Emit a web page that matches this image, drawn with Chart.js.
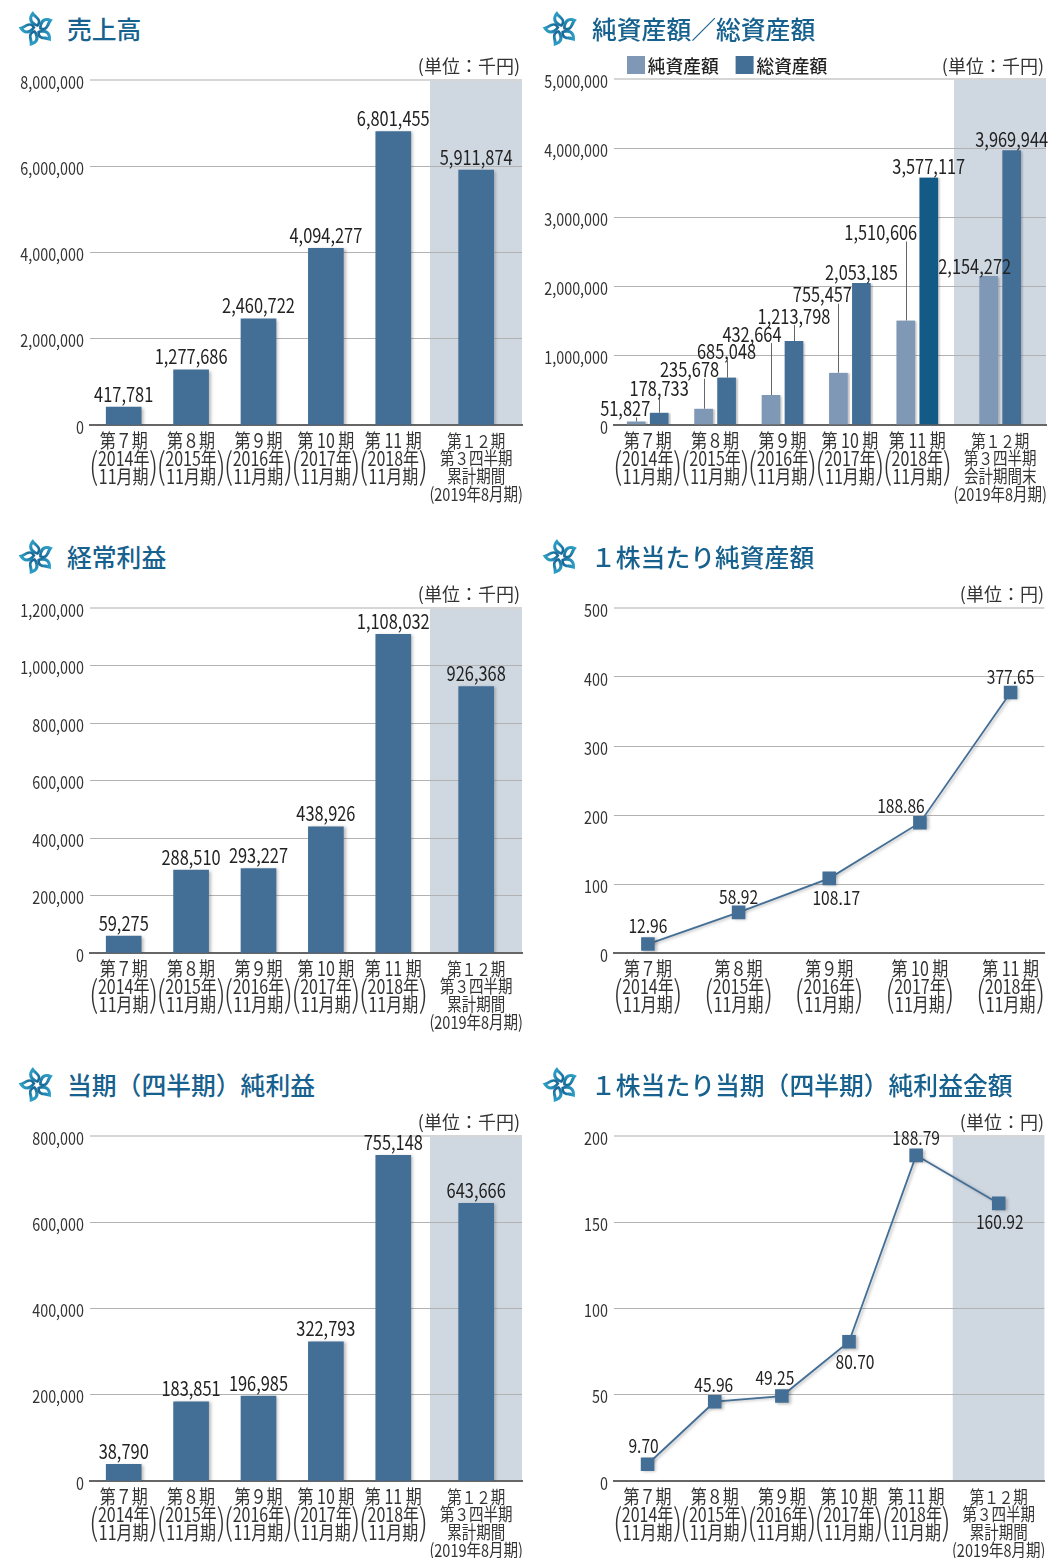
<!DOCTYPE html>
<html lang="ja">
<head>
<meta charset="utf-8">
<script src="https://cdn.jsdelivr.net/npm/chart.js@4/dist/chart.umd.js"></script>
<style>
  html, body { margin: 0; padding: 0; background: #fff; }
  #page { position: relative; width: 1058px; height: 1558px; overflow: hidden; }
  canvas { position: absolute; }
  .title { position: absolute; font: 500 24.8px "Noto Sans CJK JP", sans-serif; color: #17618e; line-height: 30px; white-space: nowrap; }
  .unit { position: absolute; font: 18px "Noto Sans CJK JP", sans-serif; color: #333; line-height: 24px; white-space: nowrap; text-align: right; }
  .logo { position: absolute; width: 38px; height: 36px; }
</style>
</head>
<body>
<div id="page"></div>
<svg width="0" height="0" style="position:absolute">
  <defs>
    <linearGradient id="petal" x1="0" y1="0" x2="1" y2="1">
      <stop offset="0" stop-color="#33b0d4"/>
      <stop offset="1" stop-color="#125a8c"/>
    </linearGradient>
    <symbol id="flower" viewBox="-19 -18 38 36">
      <g id="leaf">
        <path id="p" fill="url(#petal)" d="M1 -2 C-8 -4 -11 -11 -4 -18 C-2 -13 8 -10 1 -2Z"/>
        <path id="q" fill="#fff" d="M0 -5 C-4 -7 -6 -10 -4 -13 C-3 -11 3 -9 0 -5Z"/>
      </g>
      <use href="#leaf" transform="rotate(72)"/>
      <use href="#leaf" transform="rotate(144)"/>
      <use href="#leaf" transform="rotate(216)"/>
      <use href="#leaf" transform="rotate(288)"/>
    </symbol>
  </defs>
</svg>
<script>
// ラベル
const periodLabels = [
  ["第７期", "2014年", "11月期"],
  ["第８期", "2015年", "11月期"],
  ["第９期", "2016年", "11月期"],
  ["第 10 期", "2017年", "11月期"],
  ["第 11 期", "2018年", "11月期"],
];
const cumulativeLabel = ["第１２期", "第３四半期", "累計期間", "(2019年8月期)"];
const balanceLabel = ["第１２期", "第３四半期", "会計期間末", "(2019年8月期)"];
const legendNames = ["純資産額", "総資産額"];

// 値
const sales = [417781, 1277686, 2460722, 4094277, 6801455, 5911874];
const netAssets = [51827, 235678, 432664, 755457, 1510606, 2154272];
const totalAssets = [178733, 685048, 1213798, 2053185, 3577117, 3969944];
const ordinaryProfit = [59275, 288510, 293227, 438926, 1108032, 926368];
const netAssetsPerShare = [12.96, 58.92, 108.17, 188.86, 377.65];
const netProfit = [38790, 183851, 196985, 322793, 755148, 643666];
const profitPerShare = [9.70, 45.96, 49.25, 80.70, 188.79, 160.92];

// x軸の位置(1期分=1)
const slots6 = [0.5, 1.5, 2.5, 3.5, 4.5, 5.73];
const slots5 = [0.374, 1.374, 2.374, 3.374, 4.374];

const blue = "#436f97";
const lightBlue = "#7f98b6";
const darkBlue = "#135a87";
const bandColor = "#cfd7e1";
const jp = '"Noto Sans CJK JP", sans-serif';
const squeeze = 0.82; //元画像の文字は横につぶれている

const page = document.querySelector("#page");

//ラベルの位置調整 [dx, dy]、線グラフ用
const perShareShift = [[0, -18], [0, -16], [7, 19], [-19, -17], [0, -16]];
const profitShift = [[-4, -18], [-1, -17], [-7, -18], [6, 20], [0, -18], [1, 18]];
//純資産額/総資産額のラベル:バーからの高さ
const netLift = [13, 39, 61, 78, 88, 10];
const netDx = [-11, -14, -19, -16, -25, -14];
const totalLift = [24, 26, 25, 11, 11, 11];

const fmt = (v) => v.toLocaleString("en-US");

// 背景の帯 + バーの影 + ラベル
const panelPlugin = {
  id: "panel",
  beforeDraw(chart, args, opts) {
    if (opts.bandFrom == null) return;
    const { ctx, chartArea, scales } = chart;
    ctx.save();
    ctx.fillStyle = bandColor;
    const x0 = scales.x.getPixelForValue(opts.bandFrom);
    ctx.fillRect(x0, chartArea.top, chartArea.right - x0, chartArea.bottom - chartArea.top);
    ctx.restore();
  },
  afterLayout(chart, args, opts) {
    if (opts.legendLeft != null && chart.legend) {
      chart.legend.left = opts.legendLeft;
      chart.legend.top += 5;
    }
  },
  beforeDatasetDraw(chart) {
    const { ctx } = chart;
    ctx.save();
    ctx.shadowColor = "rgba(60,60,60,0.35)";
    ctx.shadowBlur = 3;
    ctx.shadowOffsetX = 2;
    ctx.shadowOffsetY = 1;
  },
  afterDatasetDraw(chart) {
    chart.ctx.restore();
  },
  afterDraw(chart, args, opts) {
    const { ctx, scales } = chart;
    ctx.save();
    // 年の括弧
    ctx.fillStyle = "#333";
    ctx.font = "300 36px " + jp;
    ctx.textBaseline = "middle";
    ctx.textAlign = "center";
    const n = opts.parenCount;
    opts.slots.slice(0, n).forEach((s) => {
      const x = scales.x.getPixelForValue(s);
      const y = scales.y.bottom + 40;
      ctx.fillText("(", x - 30, y);
      ctx.fillText(")", x + 30, y);
    });
    // 値ラベル
    ctx.font = opts.valueSize + "px " + jp;
    ctx.fillStyle = "#222";
    chart.data.datasets.forEach((ds, di) => {
      const meta = chart.getDatasetMeta(di);
      meta.data.forEach((el, i) => {
        const text = opts.format(ds.data[i].y);
        const dx = ds.labelDx ? ds.labelDx[i] : 0;
        if (ds.labelLift) {
          const lift = ds.labelLift[i];
          const ly = el.y - lift;
          if (lift > 12) {
            ctx.strokeStyle = "#666";
            ctx.lineWidth = 1;
            ctx.beginPath();
            ctx.moveTo(Math.round(el.x) + 0.5, ly + 9);
            ctx.lineTo(Math.round(el.x) + 0.5, el.y);
            ctx.stroke();
          }
          ctx.fillText(text, el.x + dx, ly);
        } else if (ds.labelShift) {
          ctx.fillText(text, el.x + ds.labelShift[i][0], el.y + ds.labelShift[i][1]);
        } else {
          ctx.fillText(text, el.x, el.y - 13);
        }
      });
    });
    ctx.restore();
  },
};

function addChart(o) {
  const canvas = document.createElement("canvas");
  canvas.style.left = o.left + "px";
  canvas.style.top = o.top + 50 + "px";
  canvas.style.width = "530px";
  canvas.style.height = "478px";
  canvas.width = 530;
  canvas.height = 478;
  page.appendChild(canvas);

  const logo = document.createElementNS("http://www.w3.org/2000/svg", "svg");
  logo.setAttribute("class", "logo");
  logo.style.left = o.left + 18 + "px";
  logo.style.top = o.top + 11 + "px";
  logo.innerHTML = '<use href="#flower"/>';
  page.appendChild(logo);

  const title = document.createElement("div");
  title.className = "title";
  title.textContent = o.title;
  title.style.left = o.left + 67 + (o.titleDx || 0) + "px";
  title.style.top = o.top + 13 + "px";
  page.appendChild(title);

  const unit = document.createElement("div");
  unit.className = "unit";
  unit.textContent = o.unit;
  unit.style.right = 1058 - o.left - 520 + "px";
  unit.style.top = o.top + 53 + "px";
  page.appendChild(unit);

  const ctx = canvas.getContext("2d");
  // 文字を横につぶして描く
  const rawFill = ctx.fillText.bind(ctx);
  ctx.fillText = (text, x, y) => {
    if (legendNames.includes(text)) {
      rawFill(text, x - 6, y + 1);
      return;
    }
    ctx.save();
    ctx.translate(x, y);
    ctx.scale(squeeze, 1);
    rawFill(text, 0, 0);
    ctx.restore();
  };

  new Chart(ctx, {
    type: o.type,
    data: { datasets: o.datasets },
    options: {
      responsive: false,
      animation: false,
      devicePixelRatio: 1,
      layout: { padding: { top: o.legend ? -10 : 30, right: 8, left: 0, bottom: 0 } },
      plugins: {
        tooltip: { enabled: false },
        legend: o.legend
          ? {
              position: "top",
              align: "start",
              labels: {
                boxWidth: 18,
                boxHeight: 18,
                padding: 11,
                color: "#222",
                font: { family: jp, size: 17.7, weight: "500" },
              },
            }
          : { display: false },
        panel: {
          bandFrom: o.bandFrom,
          slots: o.slots,
          parenCount: o.labels.filter((l) => l.length === 3).length,
          valueSize: o.valueSize,
          format: o.format,
          legendLeft: o.legend ? 92 : null,
        },
      },
      scales: {
        x: {
          type: "linear",
          min: 0,
          max: o.xMax,
          offset: false,
          grid: { display: false, offset: false },
          border: { display: true, color: "#666", width: 2 },
          afterBuildTicks: (axis) => {
            axis.ticks = o.slots.map((v) => ({ value: v }));
          },
          afterFit: (axis) => {
            axis.height = 103;
            axis.paddingLeft = 0;
            axis.paddingRight = 0;
          },
          ticks: {
            autoSkip: false,
            maxRotation: 0,
            minRotation: 0,
            padding: -1,
            color: "#333",
            font: (c) => ({ family: jp, size: c.index === 5 ? 17.7 : 19.5, lineHeight: c.index === 5 ? 1.0 : 0.923 }),
            callback: (v, i) => o.labels[i],
          },
        },
        y: {
          min: 0,
          max: o.yMax,
          grid: {
            drawTicks: false,
            color: (c) => (c.tick && c.tick.value === o.yMax ? "#d6d6d6" : "#b2b2b2"),
            lineWidth: (c) => (c.tick && c.tick.value === o.yMax ? 2 : 1),
          },
          border: { display: false },
          afterFit: (axis) => {
            axis.width = 90;
          },
          ticks: {
            stepSize: o.yStep,
            padding: 6,
            labelOffset: 2,
            color: "#333",
            font: { family: jp, size: 17.5 },
            callback: (v) => fmt(v),
          },
        },
      },
    },
    plugins: [panelPlugin],
  });
}

const barSet = (values, slots) => ({
  data: values.map((y, i) => ({ x: slots[i], y })),
  backgroundColor: blue,
  barThickness: 35,
});
const lineSet = (values, slots, shift) => ({
  data: values.map((y, i) => ({ x: slots[i], y })),
  borderColor: blue,
  borderWidth: 1.8,
  backgroundColor: blue,
  pointStyle: "rect",
  pointRadius: 9.6,
  pointBorderWidth: 0,
  tension: 0,
  labelShift: shift,
});

const sixLabels = (last) => [...periodLabels, last];

addChart({
  left: 0, top: 0, type: "bar", title: "売上高", unit: "(単位：千円)",
  datasets: [barSet(sales, slots6)],
  labels: sixLabels(cumulativeLabel), slots: slots6, xMax: 6.41, bandFrom: 5.045,
  yMax: 8000000, yStep: 2000000, valueSize: 20, format: fmt,
});

addChart({
  left: 524, top: 0, type: "bar", title: "純資産額／総資産額", unit: "(単位：千円)", legend: true, titleDx: 1,
  datasets: [
    {
      label: legendNames[0],
      data: netAssets.map((y, i) => ({ x: slots6[i], y })),
      backgroundColor: lightBlue,
      borderColor: "rgba(0,0,0,0)",
      borderWidth: { left: 2.5, right: 2.5, top: 0, bottom: 0 },
      barThickness: 23,
      labelLift: netLift,
      labelDx: netDx,
    },
    {
      label: legendNames[1],
      data: totalAssets.map((y, i) => ({ x: slots6[i], y })),
      backgroundColor: [blue, blue, blue, blue, darkBlue, blue],
      borderColor: "rgba(0,0,0,0)",
      borderWidth: { left: 2.5, right: 2.5, top: 0, bottom: 0 },
      barThickness: 23,
      labelLift: totalLift,
    },
  ],
  labels: sixLabels(balanceLabel), slots: slots6, xMax: 6.41, bandFrom: 5.045,
  yMax: 5000000, yStep: 1000000, valueSize: 20, format: fmt,
});

addChart({
  left: 0, top: 528, type: "bar", title: "経常利益", unit: "(単位：千円)",
  datasets: [barSet(ordinaryProfit, slots6)],
  labels: sixLabels(cumulativeLabel), slots: slots6, xMax: 6.41, bandFrom: 5.045,
  yMax: 1200000, yStep: 200000, valueSize: 20, format: fmt,
});

addChart({
  left: 524, top: 528, type: "line", title: "１株当たり純資産額", unit: "(単位：円)",
  datasets: [lineSet(netAssetsPerShare, slots5, perShareShift)],
  labels: periodLabels, slots: slots5, xMax: 4.747,
  yMax: 500, yStep: 100, valueSize: 19, format: (v) => v.toFixed(2),
});

addChart({
  left: 0, top: 1056, type: "bar", title: "当期（四半期）純利益", unit: "(単位：千円)",
  datasets: [barSet(netProfit, slots6)],
  labels: sixLabels(cumulativeLabel), slots: slots6, xMax: 6.41, bandFrom: 5.045,
  yMax: 800000, yStep: 200000, valueSize: 20, format: fmt,
});

addChart({
  left: 524, top: 1056, type: "line", title: "１株当たり当期（四半期）純利益金額", unit: "(単位：円)",
  datasets: [lineSet(profitPerShare, slots6, profitShift)],
  labels: sixLabels(cumulativeLabel), slots: slots6, xMax: 6.41, bandFrom: 5.045,
  yMax: 200, yStep: 50, valueSize: 19, format: (v) => v.toFixed(2),
});
</script>
</body>
</html>
